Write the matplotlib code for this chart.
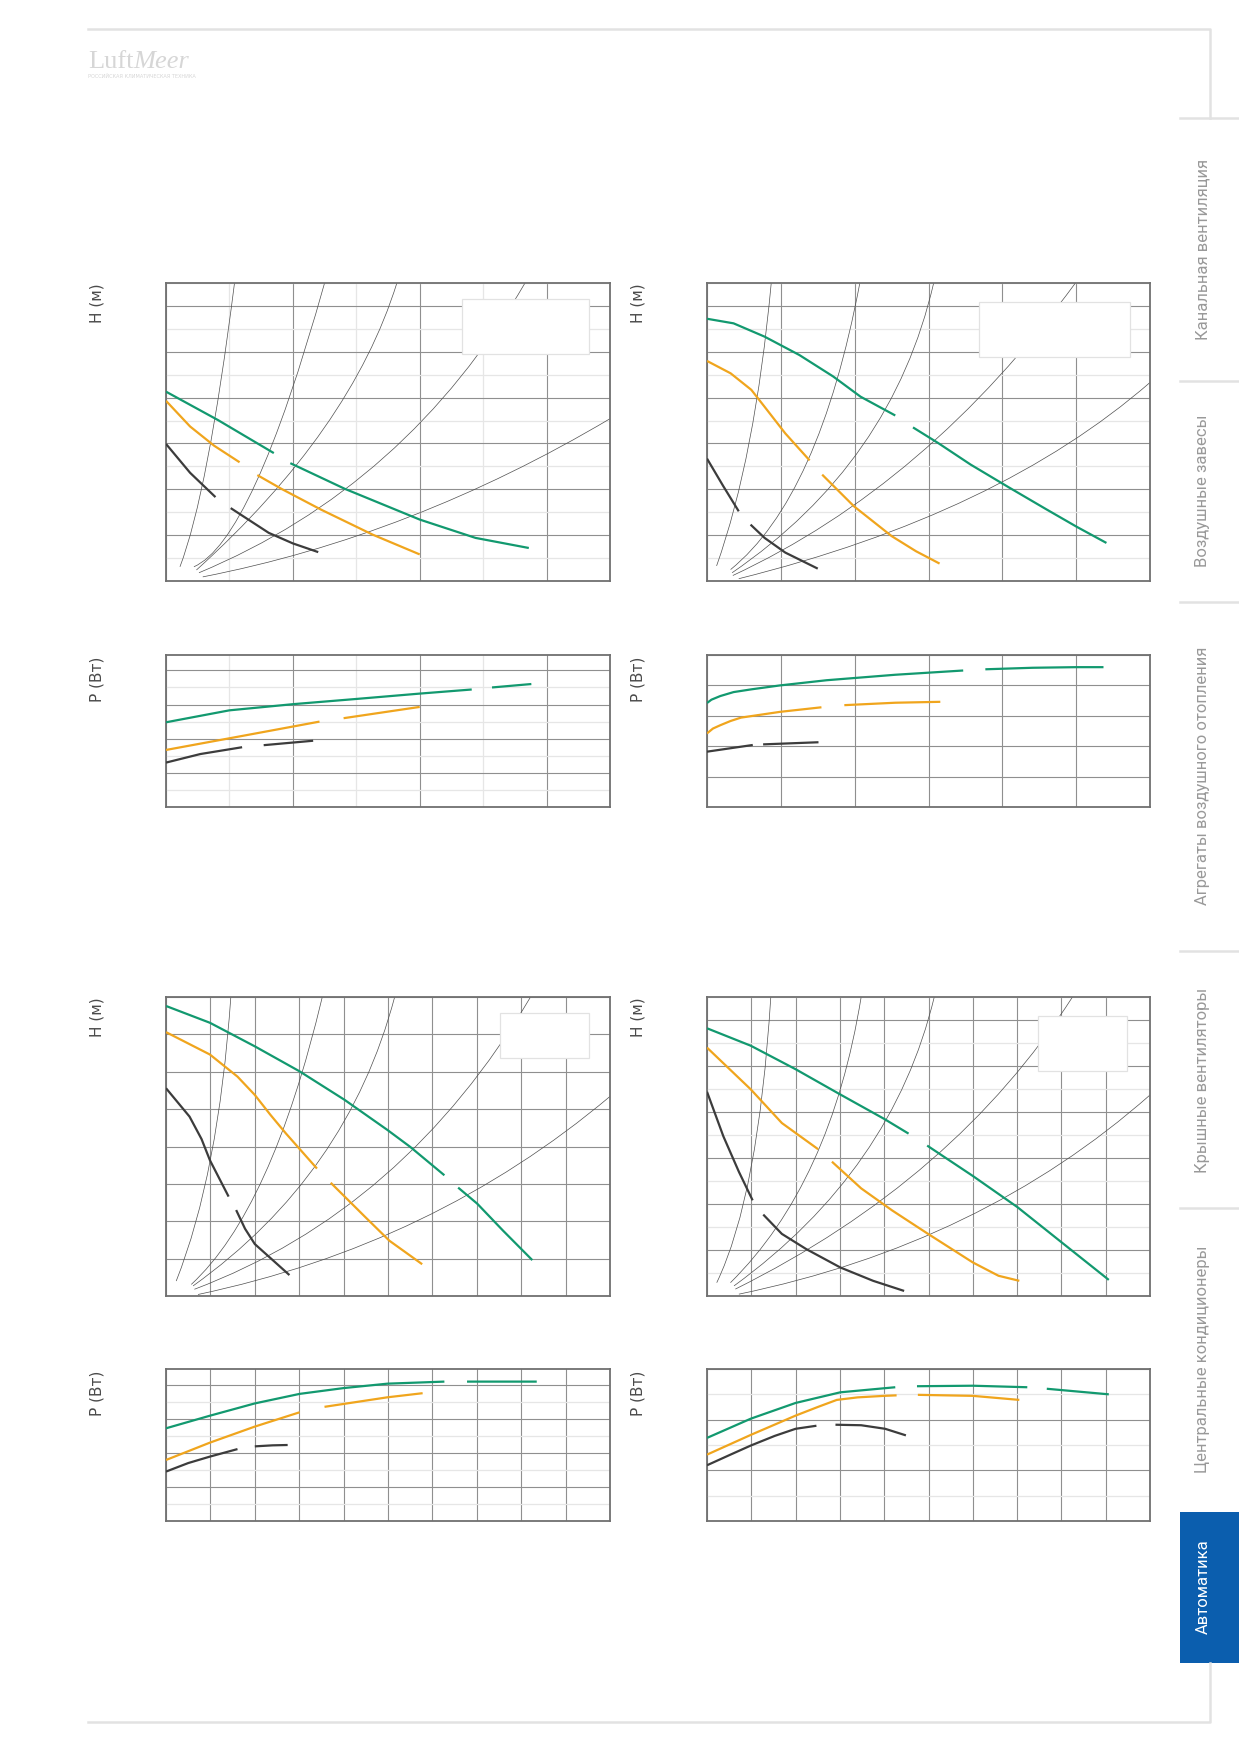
import numpy as np
import matplotlib
matplotlib.use("Agg")
import matplotlib.pyplot as plt
from matplotlib.patches import Rectangle, PathPatch
from matplotlib.path import Path
from matplotlib.lines import Line2D
from matplotlib.ticker import MultipleLocator

nan = float("nan")

# ---------------- DATA ----------------
# Top-left pair
TL_H_GREEN_X = [0, 0.41, 0.85, nan, 0.98, 1.41, 2.0, 2.44, 2.86]
TL_H_GREEN_Y = [4.13, 3.51, 2.79, nan, 2.57, 2.01, 1.34, 0.94, 0.72]
TL_H_ORANGE_X = [0, 0.19, 0.38, 0.58, nan, 0.72, 0.91, 1.22, 1.63, 2.0]
TL_H_ORANGE_Y = [3.93, 3.37, 2.95, 2.59, nan, 2.31, 2.01, 1.56, 1.01, 0.58]
TL_H_BLACK_X = [0, 0.19, 0.39, nan, 0.51, 0.81, 1.0, 1.2]
TL_H_BLACK_Y = [2.99, 2.36, 1.83, nan, 1.59, 1.05, 0.82, 0.63]
# system curves: start, bend (control) point, end
TL_SYS_X = [[0.11, 0.33, 0.54], [0.22, 0.68, 1.25], [0.24, 1.46, 1.82],
            [0.26, 1.90, 2.83], [0.29, 1.94, 3.5]]
TL_SYS_Y = [[0.31, 1.90, 6.5], [0.31, 0.86, 6.5], [0.24, 3.29, 6.5],
            [0.18, 2.07, 6.5], [0.09, 0.98, 3.54]]
TL_P_GREEN_X = [0, 0.5, 1.0, 1.49, 2.0, 2.41, nan, 2.57, 2.88]
TL_P_GREEN_Y = [2.48, 2.83, 3.01, 3.16, 3.32, 3.44, nan, 3.50, 3.60]
TL_P_ORANGE_X = [0, 0.6, 1.21, nan, 1.40, 2.0]
TL_P_ORANGE_Y = [1.67, 2.08, 2.50, nan, 2.60, 2.93]
TL_P_BLACK_X = [0, 0.27, 0.6, nan, 0.77, 1.16]
TL_P_BLACK_Y = [1.30, 1.55, 1.75, nan, 1.81, 1.94]

# Top-right pair
TR_H_GREEN_X = [0, 0.36, 0.78, 1.25, 1.71, 2.08, 2.55, nan, 2.79, 3.13, 3.57, 4.08, 4.60, 5.01, 5.41]
TR_H_GREEN_Y = [5.72, 5.62, 5.33, 4.93, 4.46, 4.02, 3.61, nan, 3.35, 3.01, 2.54, 2.05, 1.56, 1.18, 0.83]
TR_H_ORANGE_X = [0, 0.32, 0.60, 0.78, 1.06, 1.39, nan, 1.56, 1.99, 2.50, 2.83, 3.15]
TR_H_ORANGE_Y = [4.80, 4.53, 4.17, 3.80, 3.22, 2.63, nan, 2.32, 1.63, 0.98, 0.65, 0.38]
TR_H_BLACK_X = [0, 0.22, 0.43, nan, 0.59, 0.78, 1.06, 1.50]
TR_H_BLACK_Y = [2.67, 2.07, 1.52, nan, 1.23, 0.94, 0.62, 0.27]
TR_SYS_X = [[0.13, 0.65, 0.87], [0.32, 1.52, 2.07], [0.34, 2.51, 3.07],
            [0.35, 2.99, 4.99], [0.43, 3.95, 6.0]]
TR_SYS_Y = [[0.33, 2.68, 6.5], [0.25, 1.82, 6.5], [0.18, 2.57, 6.5],
            [0.12, 2.10, 6.5], [0.05, 1.46, 4.33]]
TR_P_GREEN_X = [0, 0.06, 0.18, 0.36, 0.60, 0.99, 1.62, 2.55, 3.47, nan, 3.77, 4.41, 5.0, 5.37]
TR_P_GREEN_Y = [3.42, 3.53, 3.65, 3.78, 3.87, 4.0, 4.17, 4.35, 4.49, nan, 4.53, 4.58, 4.60, 4.60]
TR_P_ORANGE_X = [0, 0.08, 0.18, 0.32, 0.46, 0.99, 1.55, nan, 1.86, 2.55, 3.16]
TR_P_ORANGE_Y = [2.42, 2.58, 2.69, 2.83, 2.94, 3.13, 3.28, nan, 3.35, 3.43, 3.46]
TR_P_BLACK_X = [0, 0.62, nan, 0.76, 1.51]
TR_P_BLACK_Y = [1.82, 2.04, nan, 2.06, 2.13]

# Bottom-left pair
BL_H_GREEN_X = [0, 0.99, 2.0, 3.01, 4.02, 4.99, 5.50, 6.27, nan, 6.58, 7.01, 7.59, 8.25]
BL_H_GREEN_Y = [7.76, 7.31, 6.68, 6.01, 5.25, 4.44, 3.99, 3.23, nan, 2.90, 2.47, 1.75, 0.96]
BL_H_ORANGE_X = [0, 0.99, 1.61, 2.0, 2.35, 2.70, 3.40, nan, 3.71, 4.49, 5.03, 5.77]
BL_H_ORANGE_Y = [7.06, 6.46, 5.87, 5.38, 4.85, 4.35, 3.41, nan, 3.03, 2.11, 1.48, 0.85]
BL_H_BLACK_X = [0, 0.53, 0.80, 0.99, 1.41, nan, 1.58, 1.78, 2.0, 2.78]
BL_H_BLACK_Y = [5.56, 4.80, 4.20, 3.63, 2.66, nan, 2.30, 1.80, 1.39, 0.56]
BL_SYS_X = [[0.23, 1.18, 1.46], [0.57, 2.38, 3.52], [0.61, 4.09, 5.15],
            [0.64, 5.37, 8.21], [0.72, 6.03, 10.0]]
BL_SYS_Y = [[0.40, 3.24, 8.0], [0.31, 2.30, 8.0], [0.27, 3.23, 8.0],
            [0.18, 2.30, 8.0], [0.04, 1.37, 5.34]]
BL_P_GREEN_X = [0, 0.99, 2.0, 3.01, 4.0, 4.99, 6.27, nan, 6.78, 8.35]
BL_P_GREEN_Y = [2.72, 3.09, 3.45, 3.73, 3.90, 4.03, 4.09, nan, 4.09, 4.09]
BL_P_ORANGE_X = [0, 0.99, 2.0, 3.01, nan, 3.57, 4.99, 5.78]
BL_P_ORANGE_Y = [1.79, 2.30, 2.77, 3.19, nan, 3.35, 3.63, 3.75]
BL_P_BLACK_X = [0, 0.50, 0.99, 1.61, nan, 2.0, 2.40, 2.74]
BL_P_BLACK_Y = [1.45, 1.70, 1.89, 2.11, nan, 2.19, 2.22, 2.23]

# Bottom-right pair
BR_H_GREEN_X = [0, 0.99, 2.0, 3.01, 4.0, 4.55, nan, 4.97, 6.0, 7.01, 8.0, 9.07]
BR_H_GREEN_Y = [5.82, 5.44, 4.93, 4.38, 3.85, 3.53, nan, 3.27, 2.61, 1.93, 1.17, 0.35]
BR_H_ORANGE_X = [0, 0.99, 1.69, 2.51, nan, 2.82, 3.48, 4.18, 4.99, 6.0, 6.58, 7.05]
BR_H_ORANGE_Y = [5.40, 4.49, 3.76, 3.19, nan, 2.92, 2.34, 1.86, 1.35, 0.73, 0.44, 0.33]
BR_H_BLACK_X = [0, 0.37, 0.72, 1.03, nan, 1.27, 1.69, 2.24, 3.01, 3.75, 4.45]
BR_H_BLACK_Y = [4.44, 3.47, 2.70, 2.08, nan, 1.77, 1.35, 1.02, 0.62, 0.33, 0.11]
BR_SYS_X = [[0.22, 1.16, 1.44], [0.53, 2.80, 3.48], [0.61, 4.19, 5.13],
            [0.64, 5.61, 8.25], [0.72, 6.19, 10.0]]
BR_SYS_Y = [[0.29, 2.17, 6.5], [0.29, 2.45, 6.5], [0.22, 2.73, 6.5],
            [0.15, 2.53, 6.5], [0.04, 1.13, 4.37]]
BR_P_GREEN_X = [0, 0.99, 2.0, 3.01, 4.0, 4.25, nan, 4.74, 6.0, 7.23, nan, 7.67, 9.07]
BR_P_GREEN_Y = [1.64, 2.02, 2.33, 2.54, 2.62, 2.64, nan, 2.66, 2.67, 2.64, nan, 2.61, 2.50]
BR_P_ORANGE_X = [0, 0.99, 2.0, 2.50, 2.93, 3.40, 4.0, 4.28, nan, 4.76, 6.0, 7.05]
BR_P_ORANGE_Y = [1.31, 1.70, 2.08, 2.25, 2.39, 2.44, 2.47, 2.48, nan, 2.49, 2.47, 2.39]
BR_P_BLACK_X = [0, 0.53, 0.99, 1.53, 2.0, 2.47, nan, 2.90, 3.48, 4.02, 4.49]
BR_P_BLACK_Y = [1.10, 1.31, 1.49, 1.68, 1.82, 1.88, nan, 1.90, 1.89, 1.82, 1.69]

H_LABEL = "H (м)"
P_LABEL = "P (Вт)"
TABS = ["Канальная вентиляция", "Воздушные завесы", "Агрегаты воздушного отопления",
        "Крышные вентиляторы", "Центральные кондиционеры", "Автоматика"]
LOGO_MAIN = "Luft"
LOGO_SCRIPT = "Meer"
LOGO_SUB = "РОССИЙСКАЯ КЛИМАТИЧЕСКАЯ ТЕХНИКА"

# ---------------- STYLE ----------------
GREEN = "#12996f"
ORANGE = "#f0a51d"
BLACK = "#3c3c3c"
MAJOR = "#8f8f8f"
MINOR = "#e6e6e6"
SPINE = "#707070"
SYS = "#4f4f4f"
FRAME = "#e2e2e2"
TAB_TXT = "#999999"
BLUE = "#0b5eae"

W, Hpx = 1239, 1752
fig = plt.figure(figsize=(W / 100, Hpx / 100), dpi=100)
fig.patch.set_facecolor("white")


def axes_px(x0, y0, x1, y1):
    return fig.add_axes([x0 / W, 1 - y1 / Hpx, (x1 - x0) / W, (y1 - y0) / Hpx])


def style_axes(ax, xmax, ymax, xmin_step, ymin_step):
    ax.set_xlim(0, xmax)
    ax.set_ylim(0, ymax)
    ax.set_axisbelow(True)
    ax.xaxis.set_major_locator(MultipleLocator(1))
    ax.yaxis.set_major_locator(MultipleLocator(1))
    if xmin_step:
        ax.xaxis.set_minor_locator(MultipleLocator(xmin_step))
        ax.grid(True, which="minor", axis="x", color=MINOR, lw=0.9)
    if ymin_step:
        ax.yaxis.set_minor_locator(MultipleLocator(ymin_step))
        ax.grid(True, which="minor", axis="y", color=MINOR, lw=0.9)
    ax.grid(True, which="major", color=MAJOR, lw=0.8)
    ax.tick_params(which="both", length=0, labelbottom=False, labelleft=False)
    for s in ax.spines.values():
        s.set_color(SPINE)
        s.set_linewidth(1.3)


def draw_curves(ax, gx, gy, ox, oy, bx, by):
    for x, y, col in ((gx, gy, GREEN), (ox, oy, ORANGE), (bx, by, BLACK)):
        ax.plot(x, y, color=col, lw=1.6, zorder=4, solid_capstyle="butt",
                solid_joinstyle="round")


def draw_sys(ax, xs, ys):
    for x, y in zip(xs, ys):
        path = Path(list(zip(x, y)), [Path.MOVETO, Path.CURVE3, Path.CURVE3])
        ax.add_patch(PathPatch(path, fill=False, edgecolor=SYS, lw=0.5, zorder=1.5))


def legend_box(ax, x0, y0, x1, y1):
    ax.add_patch(Rectangle((x0, y0), x1 - x0, y1 - y0, transform=ax.transAxes,
                           facecolor="white", edgecolor="#e2e2e2", lw=0.9, zorder=3))


LX0, LX1 = 166, 610
RX0, RX1 = 707, 1150
charts = [
    dict(x=(LX0, LX1), hy=(283, 581), py=(655, 807),
         hcfg=(3.5, 6.5, 0.5, 0.5), pcfg=(3.5, 4.45, 0.5, 0.5),
         h=(TL_H_GREEN_X, TL_H_GREEN_Y, TL_H_ORANGE_X, TL_H_ORANGE_Y, TL_H_BLACK_X, TL_H_BLACK_Y),
         p=(TL_P_GREEN_X, TL_P_GREEN_Y, TL_P_ORANGE_X, TL_P_ORANGE_Y, TL_P_BLACK_X, TL_P_BLACK_Y),
         sys=(TL_SYS_X, TL_SYS_Y), leg=(0.667, 0.762, 0.953, 0.946)),
    dict(x=(RX0, RX1), hy=(283, 581), py=(655, 807),
         hcfg=(6, 6.5, None, 0.5), pcfg=(6, 5, None, None),
         h=(TR_H_GREEN_X, TR_H_GREEN_Y, TR_H_ORANGE_X, TR_H_ORANGE_Y, TR_H_BLACK_X, TR_H_BLACK_Y),
         p=(TR_P_GREEN_X, TR_P_GREEN_Y, TR_P_ORANGE_X, TR_P_ORANGE_Y, TR_P_BLACK_X, TR_P_BLACK_Y),
         sys=(TR_SYS_X, TR_SYS_Y), leg=(0.614, 0.752, 0.954, 0.936)),
    dict(x=(LX0, LX1), hy=(997, 1296), py=(1369, 1521),
         hcfg=(10, 8, None, None), pcfg=(10, 4.46, None, 0.5),
         h=(BL_H_GREEN_X, BL_H_GREEN_Y, BL_H_ORANGE_X, BL_H_ORANGE_Y, BL_H_BLACK_X, BL_H_BLACK_Y),
         p=(BL_P_GREEN_X, BL_P_GREEN_Y, BL_P_ORANGE_X, BL_P_ORANGE_Y, BL_P_BLACK_X, BL_P_BLACK_Y),
         sys=(BL_SYS_X, BL_SYS_Y), leg=(0.753, 0.796, 0.953, 0.947)),
    dict(x=(RX0, RX1), hy=(997, 1296), py=(1369, 1521),
         hcfg=(10, 6.5, None, 0.5), pcfg=(10, 3, None, 0.5),
         h=(BR_H_GREEN_X, BR_H_GREEN_Y, BR_H_ORANGE_X, BR_H_ORANGE_Y, BR_H_BLACK_X, BR_H_BLACK_Y),
         p=(BR_P_GREEN_X, BR_P_GREEN_Y, BR_P_ORANGE_X, BR_P_ORANGE_Y, BR_P_BLACK_X, BR_P_BLACK_Y),
         sys=(BR_SYS_X, BR_SYS_Y), leg=(0.748, 0.753, 0.948, 0.938)),
]

for c in charts:
    x0, x1 = c["x"]
    axh = axes_px(x0, c["hy"][0], x1, c["hy"][1])
    style_axes(axh, *c["hcfg"])
    draw_sys(axh, *c["sys"])
    legend_box(axh, *c["leg"])
    draw_curves(axh, *c["h"])
    axp = axes_px(x0, c["py"][0], x1, c["py"][1])
    style_axes(axp, *c["pcfg"])
    draw_curves(axp, *c["p"])
    lab_x = (x0 - 69) / W
    fig.text(lab_x, 1 - (c["hy"][0] + 20) / Hpx, H_LABEL, rotation=90, ha="center",
             va="center", fontsize=11, color="#4a4a4a", family="DejaVu Sans")
    fig.text(lab_x, 1 - (c["py"][0] + 24) / Hpx, P_LABEL, rotation=90, ha="center",
             va="center", fontsize=11, color="#4a4a4a", family="DejaVu Sans")

# ---------------- PAGE FRAME ----------------
def fline(xs, ys, color=FRAME, lw=1.8):
    fig.add_artist(Line2D([x / W for x in xs], [1 - y / Hpx for y in ys],
                          color=color, lw=lw, transform=fig.transFigure))

fline([88, 1210, 1210], [29, 29, 118])
fline([88, 1210, 1210], [1722, 1722, 1663])
for ysep in [118, 381, 602, 951, 1208]:
    fline([1180, 1239], [ysep, ysep])

fig.add_artist(Rectangle((1180 / W, 1 - 1663 / Hpx), 59 / W, 151 / Hpx,
                         transform=fig.transFigure, facecolor=BLUE, edgecolor="none"))
tab_centers = [249, 491, 776, 1080, 1359, 1587]
for i, (t, yc) in enumerate(zip(TABS, tab_centers)):
    active = i == len(TABS) - 1
    fig.text(1203 / W, 1 - yc / Hpx, t, rotation=90, ha="center", va="center",
             fontsize=12, color="white" if active else TAB_TXT,
             family="Roboto", fontweight="normal")

# ---------------- LOGO ----------------
fig.text(88 / W, 1 - 68 / Hpx, LOGO_MAIN, fontsize=19, color="#d6d6d6",
         family="Liberation Serif", ha="left", va="baseline")
fig.text(133 / W, 1 - 68 / Hpx, LOGO_SCRIPT, fontsize=19, color="#d6d6d6",
         family="Liberation Serif", style="italic", ha="left", va="baseline")
fig.text(88 / W, 1 - 76 / Hpx, LOGO_SUB, fontsize=3.6, color="#d6d6d6",
         family="DejaVu Sans", ha="left", va="center")

fig.savefig("out.png", dpi=100, facecolor="white")
